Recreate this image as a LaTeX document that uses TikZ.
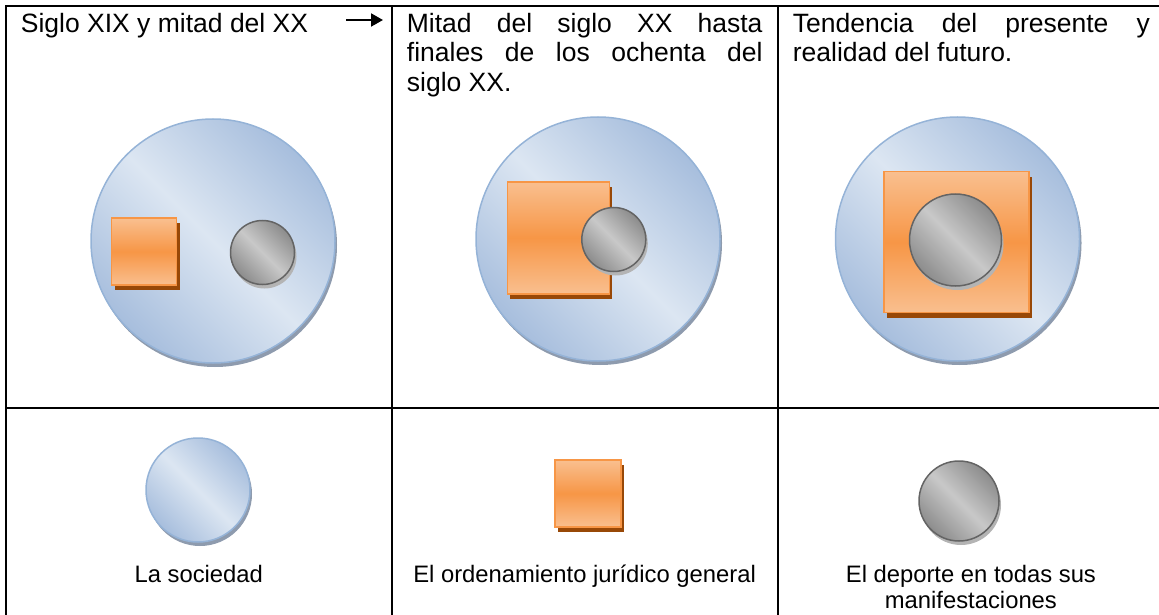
\documentclass[tikz,border=0pt]{standalone}
\usepackage{fontspec}
\setmainfont{Liberation Sans}
\usetikzlibrary{positioning}
\usetikzlibrary{shadows}
\usetikzlibrary{arrows.meta}
\definecolor{socline}{HTML}{95B3D7}
\definecolor{soclight}{HTML}{DCE6F2}
\definecolor{socdark}{HTML}{A7BEDD}
\definecolor{socshadow}{HTML}{8E9BAE}
\definecolor{ordline}{HTML}{F79646}
\definecolor{ordlight}{HTML}{F9BF8F}
\definecolor{ordmid}{HTML}{F79646}
\definecolor{ordshadow}{HTML}{984807}
\definecolor{depline}{HTML}{646464}
\definecolor{deplight}{HTML}{C8C8C8}
\definecolor{depdark}{HTML}{8C8C8C}
\definecolor{depshadow}{HTML}{B4B4B4}
\hyphenpenalty=10000
\tolerance=10000
\tikzset{every picture/.style={x=1pt,y=-1pt},
grid/.style={line width=2pt},
soc/.style={circle,inner sep=0,draw=socline,line width=1.5pt,top color=socdark,bottom color=socdark,middle color=soclight,shading angle=-45,drop shadow={shadow xshift=2pt,shadow yshift=-4pt,fill=socshadow,opacity=1}},
ord/.style={rectangle,inner sep=0,draw=ordline,line width=1.5pt,top color=ordlight,bottom color=ordlight,middle color=ordmid,drop shadow={shadow xshift=3pt,shadow yshift=-5pt,fill=ordshadow,opacity=1}},
dep/.style={circle,inner sep=0,draw=depline,line width=1.5pt,top color=depdark,bottom color=depdark,middle color=deplight,shading angle=-45,drop shadow={shadow xshift=2pt,shadow yshift=-4pt,fill=depshadow,opacity=1}},
head/.style={inner sep=0,font=\fontsize{26.5}{29.7}\selectfont},
lab/.style={inner sep=0,font=\fontsize{23.8}{25.6}\selectfont}}

\begin{document}
\begin{tikzpicture}
\useasboundingbox (0,0) rectangle (1159,615);
\clip (0,0) rectangle (1159,615);
% table
\draw[grid] (6,640) -- (6,6) -- (1165,6) -- (1165,640);
\draw[grid] (6,407.5) -- (1165,407.5);
\foreach \x in {391.5, 777.7} {
\draw[grid] (\x,6) -- (\x,640);
}
% headings
\node (t1) at (20.7,32.3) [head, anchor=base west] {Siglo XIX y mitad del XX};
\coordinate (a0) at (346,20);
\coordinate (a1) at (383,20);
\draw[-{Triangle[length=12pt,width=13pt]}, line width=2pt] (a0) -- (a1);
\node (t2) at (406.7,32.3) [head, anchor=base west, text width=355.6pt, align=justify] {Mitad del siglo XX hasta\linebreak finales de los ochenta del\linebreak siglo XX.};
\node (t3) at (792.7,32.3) [head, anchor=base west, text width=357pt, align=justify] {Tendencia del presente y\linebreak realidad del futuro.};
% society
\foreach \i/\x/\y in {1/213/241, 2/598/239, 3/957.5/239} {
\node (soc\i) at (\x,\y) [soc, minimum size=244pt] {};
}
% stage 1
\node (ord1) at (144.2,251.7) [ord, minimum width=65pt, minimum height=67pt] {};
\node (dep1) at (262.5,252.5) [dep, minimum size=64pt] {};
% stage 2
\node (ord2) at (558.3,237.8) [ord, minimum width=102pt, minimum height=112pt] {};
\node (dep2) at (613.8,239.5) [dep, minimum size=64pt] {};
% stage 3
\node (ord3) at (956.6,242.2) [ord, minimum width=145pt, minimum height=141pt] {};
\node (dep3) at (955.5,240) [dep, minimum size=92pt] {};
% legend
\node (soc0) at (198,490) [soc, minimum size=104pt] {};
\node (ord0) at (588,493.5) [ord, minimum width=66pt, minimum height=67pt] {};
\node (dep0) at (959,501) [dep, minimum size=80pt] {};
\node (l1) at (198.75,582.7) [lab, anchor=base] {La sociedad};
\node (l2) at (584.6,582.7) [lab, anchor=base] {El ordenamiento jurídico general};
\node (l3) at (970.9,608.3) [lab, anchor=base, align=center] {El deporte en todas sus\\manifestaciones};
\end{tikzpicture}
\end{document}
